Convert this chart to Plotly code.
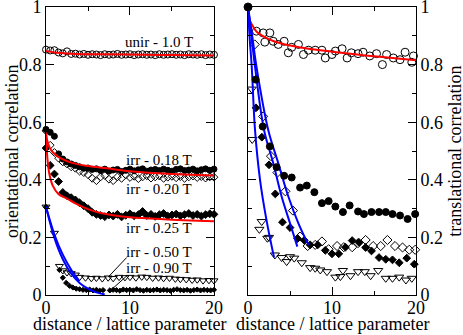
import plotly.graph_objects as go

# ---------------- data: left panel (orientational correlation) ----------------
x_half = [0, 0.5, 1, 1.5, 2, 2.5, 3, 3.5, 4, 4.5, 5, 5.5, 6, 6.5, 7, 7.5, 8, 8.5, 9, 9.5,
          10, 10.5, 11, 11.5, 12, 12.5, 13, 13.5, 14, 14.5, 15, 15.5, 16, 16.5, 17, 17.5,
          18, 18.5, 19, 19.5, 20]

unir_left = [0.852, 0.849, 0.850, 0.842, 0.839, 0.846, 0.837, 0.838, 0.835, 0.837, 0.834,
             0.836, 0.835, 0.833, 0.836, 0.834, 0.835, 0.837, 0.834, 0.835, 0.836, 0.833,
             0.835, 0.836, 0.834, 0.835, 0.833, 0.836, 0.834, 0.835, 0.836, 0.834, 0.835,
             0.833, 0.836, 0.835, 0.834, 0.836, 0.833, 0.835, 0.834]

irr018_left = [0.575, 0.565, 0.551, 0.49, 0.472, 0.462, 0.455, 0.45, 0.445, 0.44, 0.441,
               0.436, 0.438, 0.432, 0.437, 0.43, 0.434, 0.436, 0.429, 0.433, 0.437, 0.431,
               0.435, 0.438, 0.43, 0.434, 0.436, 0.432, 0.437, 0.433, 0.43, 0.436, 0.438,
               0.432, 0.434, 0.437, 0.431, 0.435, 0.438, 0.433, 0.437]

irr020_left = [0.57, 0.52, 0.495, 0.475, 0.462, 0.455, 0.445, 0.44, 0.43, 0.425, 0.418,
               0.405, 0.397, 0.41, 0.415, 0.402, 0.397, 0.41, 0.405, 0.417, 0.408, 0.412,
               0.404, 0.41, 0.414, 0.406, 0.41, 0.413, 0.405, 0.409, 0.412, 0.407, 0.411,
               0.405, 0.41, 0.413, 0.408, 0.411, 0.406, 0.41, 0.409]

irr025_left = [0.51, 0.45, 0.42, 0.394, 0.356, 0.345, 0.338, 0.33, 0.32, 0.31, 0.3,
               0.287, 0.28, 0.276, 0.272, 0.278, 0.274, 0.28, 0.271, 0.277, 0.282, 0.275,
               0.279, 0.29, 0.276, 0.28, 0.273, 0.279, 0.283, 0.274, 0.278, 0.281, 0.275,
               0.279, 0.283, 0.276, 0.28, 0.274, 0.279, 0.282, 0.28]

x_irr050_left = [0, 1.0, 1.6, 2.0, 2.5, 3.0, 3.5, 4.0, 4.7, 5.4, 6.0, 6.7, 7.4, 8.0, 8.7,
                 9.4, 10.0, 10.7, 11.4, 12.0, 12.7, 13.4, 14.0, 14.7, 15.4, 16.0, 16.7,
                 17.4, 18.0, 18.7, 19.4, 20.0]
irr050_left = [0.306, 0.215, 0.1, 0.085, 0.078, 0.075, 0.07, 0.062, 0.06, 0.058, 0.059,
               0.057, 0.06, 0.058, 0.062, 0.061, 0.062, 0.06, 0.063, 0.062, 0.059, 0.06,
               0.058, 0.059, 0.056, 0.055, 0.054, 0.052, 0.053, 0.05, 0.051, 0.05]

x_irr090_left = [0, 1.6, 2.0, 2.4, 2.8, 3.2, 3.6, 4.0, 4.4, 4.8, 5.2, 5.6, 6.0, 6.4, 6.8,
                 7.6, 8.0, 8.4, 8.8, 9.2, 9.6, 10.0, 10.4, 10.8, 11.2, 11.6, 12.0, 12.4,
                 12.8, 13.2, 13.6, 14.0, 14.4, 14.8, 15.2, 15.6, 16.0, 16.4, 16.8, 17.2,
                 17.6, 18.0, 18.4, 18.8, 19.2, 19.6, 20.0]
irr090_left = [0.306, 0.087, 0.06, 0.042, 0.032, 0.026, 0.022, 0.02, 0.018, 0.017, 0.019,
               0.016, 0.018, 0.015, 0.017, 0.016, 0.018, 0.017, 0.015, 0.019, 0.017, 0.018,
               0.016, 0.02, 0.017, 0.015, 0.018, 0.016, 0.017, 0.019, 0.016, 0.018, 0.017,
               0.015, 0.018, 0.02, 0.017, 0.016, 0.018, 0.015, 0.017, 0.019, 0.016, 0.018,
               0.017, 0.016, 0.018]

# fitted curves
fit_unir_left_x = [0, 1, 3, 6, 10, 15, 20]
fit_unir_left_y = [0.847, 0.842, 0.838, 0.836, 0.835, 0.833, 0.832]
fit018_x = [0, 0.2, 0.5, 0.9, 1.7, 3.2, 5, 7.2, 10, 14, 20]
fit018_y = [0.563, 0.53, 0.508, 0.493, 0.475, 0.458, 0.448, 0.44, 0.43, 0.422, 0.415]
fit025_x = [0, 0.15, 0.4, 0.8, 1.5, 2.5, 3.5, 5, 6.5, 8, 10, 14, 20]
fit025_y = [0.563, 0.48, 0.42, 0.38, 0.35, 0.335, 0.318, 0.298, 0.285, 0.277, 0.27, 0.263, 0.256]
fit050_left_x = [0, 1, 2, 3, 3.97]
fit050_left_y = [0.306, 0.21, 0.14, 0.088, 0.048]
fit090_left_x = [0, 1, 2, 3, 4, 5, 6, 7]
fit090_left_y = [0.306, 0.198, 0.124, 0.074, 0.042, 0.022, 0.009, 0.002]

# ---------------- data: right panel (translational correlation) ----------------
x_unir_right = [0, 1.0, 1.8, 2.0, 2.6, 3.0, 3.6, 4.3, 4.8, 5.2, 6.0, 6.6, 7.2, 8.0, 8.8,
                9.2, 10.0, 10.4, 11.2, 11.8, 12.3, 13.1, 13.7, 14.5, 15.3, 16.0, 16.5,
                17.3, 18.1, 18.7, 19.5, 19.7]
unir_right = [1.0, 0.916, 0.91, 0.878, 0.91, 0.881, 0.87, 0.881, 0.841, 0.86, 0.87, 0.835,
              0.85, 0.85, 0.85, 0.823, 0.835, 0.847, 0.855, 0.823, 0.841, 0.838, 0.843,
              0.83, 0.838, 0.80, 0.835, 0.823, 0.817, 0.843, 0.808, 0.83]

x_irr018_right = [0, 0.9, 1.75, 2.6, 3.4, 4.3, 5.2, 6.2, 7.0, 7.9, 8.8, 9.6, 10.4, 11.3,
                  12.1, 13.1, 13.8, 14.7, 15.6, 16.4, 17.2, 18.1, 19.0, 19.9]
irr018_right = [1.0, 0.748, 0.585, 0.516, 0.444, 0.414, 0.408, 0.373, 0.38, 0.357, 0.319,
                0.326, 0.307, 0.288, 0.311, 0.29, 0.281, 0.288, 0.288, 0.288, 0.281, 0.276,
                0.264, 0.281]

x_irr020_right = [0.8, 1.8, 2.74, 3.5, 4.45, 5.35, 6.2, 7.1, 8.0, 8.8, 9.6, 10.6, 11.4,
                  12.4, 13.1, 14.0, 14.9, 15.8, 16.6, 17.5, 18.4, 19.2, 19.9]
irr020_right = [0.87, 0.62, 0.482, 0.425, 0.36, 0.293, 0.203, 0.17, 0.174, 0.186, 0.159,
                0.17, 0.166, 0.166, 0.18, 0.191, 0.17, 0.17, 0.191, 0.17, 0.165, 0.157, 0.157]

x_irr025_right = [0.95, 1.65, 2.5, 3.25, 4.1, 5.0, 5.9, 6.7, 7.4, 8.3, 9.2, 10.0, 10.8,
                  11.6, 12.4, 13.2, 14.0, 14.7, 15.6, 16.4, 17.2, 18.0, 18.9, 19.8]
irr025_right = [0.65, 0.548, 0.452, 0.351, 0.253, 0.234, 0.196, 0.19, 0.174, 0.174, 0.155,
                0.143, 0.143, 0.166, 0.189, 0.183, 0.165, 0.153, 0.13, 0.124, 0.122, 0.112,
                0.128, 0.107]

x_irr050_right = [0.44, 0.5, 1.35, 1.63, 2.3, 2.5, 3.2, 4.0, 4.6, 5.0, 5.5, 6.4, 7.4, 8.0,
                  8.6, 9.4, 10.4, 11.0, 11.3, 12.2, 13.1, 13.9, 14.6, 15.5, 16.4, 17.2,
                  18.0, 18.8, 19.5]
irr050_right = [0.715, 0.54, 0.228, 0.255, 0.197, 0.2, 0.139, 0.13, 0.116, 0.133, 0.128,
                0.112, 0.095, 0.093, 0.087, 0.081, 0.062, 0.064, 0.085, 0.067, 0.081, 0.081,
                0.067, 0.085, 0.058, 0.058, 0.062, 0.052, 0.058]

fit_unir_right_x = [0, 0.2, 0.6, 1, 2, 3, 5, 7, 10, 13, 16, 20]
fit_unir_right_y = [1.0, 0.955, 0.932, 0.915, 0.895, 0.882, 0.866, 0.856, 0.845, 0.835, 0.826, 0.815]
fit050_right_x = [0, 0.2, 0.44, 0.83, 1.43, 2.2, 3.1]
fit050_right_y = [1.0, 0.89, 0.794, 0.574, 0.40, 0.26, 0.13]
fit025_right_x = [0, 0.4, 0.83, 1.9, 3.0, 4.0, 5.0, 5.87]
fit025_right_y = [1.0, 0.9, 0.794, 0.574, 0.458, 0.342, 0.249, 0.168]
fit020_right_x = [0, 0.5, 1.0, 2.4, 3.6, 4.8, 6.0, 7.2]
fit020_right_y = [1.0, 0.9, 0.794, 0.574, 0.458, 0.342, 0.249, 0.174]

y_ticks = [0, 0.2, 0.4, 0.6, 0.8, 1]
y_ticktext = ["0", "0.2", "0.4", "0.6", "0.8", "1"]
x_ticks = [0, 10, 20]

labels_left = ["unir - 1.0 T", "irr - 0.18 T", "irr - 0.20 T", "irr - 0.25 T",
               "irr - 0.50 T", "irr - 0.90 T"]
label_pos_x = [13.5, 13.5, 13.4, 13.4, 13.4, 13.4]
label_pos_y = [0.877, 0.47, 0.369, 0.233, 0.151, 0.093]

x_title = "distance / lattice parameter"
y_title_left = "orientational correlation"
y_title_right = "translational correlation"

FONT = "Liberation Serif"
RED = "#ff0000"
BLUE = "#0000ff"

fig = go.Figure()


def markers(x, y, symbol, size, xa, ya, lw=1):
    fig.add_trace(go.Scatter(x=x, y=y, mode="markers", xaxis=xa, yaxis=ya,
                             cliponaxis=False, showlegend=False,
                             marker=dict(symbol=symbol, size=size, color="black",
                                         line=dict(color="black", width=lw))))


def fitline(x, y, color, xa, ya):
    fig.add_trace(go.Scatter(x=x, y=y, mode="lines", xaxis=xa, yaxis=ya,
                             showlegend=False,
                             line=dict(color=color, width=2, shape="spline", smoothing=1)))


# left panel markers
markers(x_half, unir_left, "circle-open", 7, "x", "y")
markers(x_half, irr020_left, "diamond-open", 6, "x", "y")
markers(x_half, irr018_left, "circle", 6, "x", "y")
markers(x_half, irr025_left, "diamond", 6, "x", "y")
markers(x_irr050_left, irr050_left, "triangle-down-open", 7, "x", "y")
markers(x_irr090_left, irr090_left, "diamond", 4, "x", "y")
# left panel fits
fitline(fit_unir_left_x, fit_unir_left_y, RED, "x", "y")
fitline(fit018_x, fit018_y, RED, "x", "y")
fitline(fit025_x, fit025_y, RED, "x", "y")
fitline(fit050_left_x, fit050_left_y, BLUE, "x", "y")
fitline(fit090_left_x, fit090_left_y, BLUE, "x", "y")

# right panel markers
markers(x_unir_right, unir_right, "circle-open", 8, "x2", "y2")
markers(x_irr020_right, irr020_right, "diamond-open", 7, "x2", "y2")
markers(x_irr025_right, irr025_right, "diamond", 6, "x2", "y2")
markers(x_irr050_right, irr050_right, "triangle-down-open", 8, "x2", "y2")
# right panel fits
fitline(fit_unir_right_x, fit_unir_right_y, RED, "x2", "y2")
fitline(fit050_right_x, fit050_right_y, BLUE, "x2", "y2")
fitline(fit025_right_x, fit025_right_y, BLUE, "x2", "y2")
fitline(fit020_right_x, fit020_right_y, BLUE, "x2", "y2")
markers(x_irr018_right, irr018_right, "circle", 7, "x2", "y2")

axis_common = dict(
    showline=True, linecolor="black", linewidth=1, mirror="ticks",
    ticks="inside", ticklen=8, tickwidth=1, tickcolor="black",
    showgrid=False, zeroline=False, automargin=False,
    ticklabeloverflow="allow",
    tickfont=dict(family=FONT, size=18, color="black"),
)
xcommon = dict(axis_common, range=[0, 20], tickvals=x_ticks, ticklabelstandoff=-4,
               minor=dict(ticks="inside", ticklen=4, dtick=5, tickcolor="black"))
ycommon = dict(axis_common, range=[0, 1], tickvals=y_ticks, ticktext=y_ticktext,
               minor=dict(ticks="inside", ticklen=4, dtick=0.1, tickcolor="black"))

fig.update_layout(
    width=463, height=335,
    margin=dict(l=46, r=47, t=7, b=40, autoexpand=False),
    paper_bgcolor="white", plot_bgcolor="white",
    font=dict(family=FONT, color="black"),
    xaxis=dict(xcommon, domain=[0, 0.454], anchor="y"),
    yaxis=dict(ycommon, anchor="x"),
    xaxis2=dict(xcommon, domain=[0.546, 1], anchor="y2"),
    yaxis2=dict(ycommon, anchor="x2", side="right"),
)

title_font = dict(family=FONT, size=18, color="black")
# axis titles as paper annotations (exact placement)
fig.add_annotation(x=0.227, y=-0.1, xref="paper", yref="paper", text=x_title,
                   showarrow=False, font=title_font, xanchor="center", yanchor="middle")
fig.add_annotation(x=0.773, y=-0.1, xref="paper", yref="paper", text=x_title,
                   showarrow=False, font=title_font, xanchor="center", yanchor="middle")
fig.add_annotation(x=-0.092, y=0.5, xref="paper", yref="paper", text=y_title_left,
                   showarrow=False, font=title_font, textangle=-90,
                   xanchor="center", yanchor="middle")
fig.add_annotation(x=1.105, y=0.5, xref="paper", yref="paper", text=y_title_right,
                   showarrow=False, font=title_font, textangle=-90,
                   xanchor="center", yanchor="middle")

for txt, lx, ly in zip(labels_left, label_pos_x, label_pos_y):
    fig.add_annotation(x=lx, y=ly, xref="x", yref="y", text=txt, showarrow=False,
                       font=dict(family=FONT, size=15, color="black"))

# leader lines from labels to data
fig.add_shape(type="line", xref="x", yref="y", x0=9.6, y0=0.13, x1=7.4, y1=0.062,
              line=dict(color="black", width=1))
fig.add_shape(type="line", xref="x", yref="y", x0=9.6, y0=0.066, x1=7.85, y1=0.02,
              line=dict(color="black", width=1))

fig.write_html(
    "out.html",
    config={"displayModeBar": False},
    post_script="document.body.style.margin='0';document.body.style.padding='0';"
                "document.documentElement.style.overflow='hidden';",
)
